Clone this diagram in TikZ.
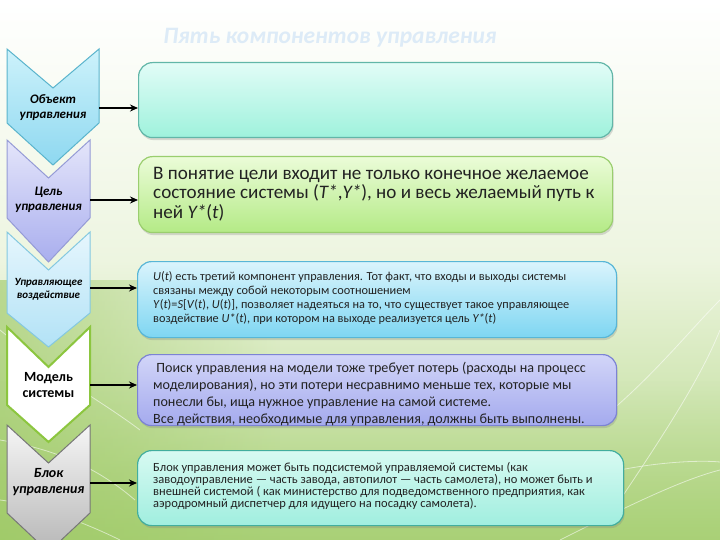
\documentclass[tikz,border=0pt]{standalone}
\usepackage{fontspec}
\setmainfont{Carlito}
\usetikzlibrary{shadows,fadings,arrows.meta}
\definecolor{bgtop}{HTML}{FFFFFF}
\definecolor{bgmid}{HTML}{EDF5E0}
\definecolor{bgbot}{HTML}{B2D684}
\definecolor{bgleaf}{HTML}{9CC862}
\definecolor{ttl}{HTML}{DDEBF7}
\definecolor{txt}{HTML}{222222}
% chevrons
\definecolor{caT}{HTML}{CDF2FB}\definecolor{caB}{HTML}{8ED8F0}\definecolor{caD}{HTML}{5AB4CC}
\definecolor{cbT}{HTML}{E4E5FA}\definecolor{cbB}{HTML}{A9AEEE}\definecolor{cbD}{HTML}{959BD6}
\definecolor{ccT}{HTML}{E6F6FD}\definecolor{ccB}{HTML}{B2E2F6}\definecolor{ccD}{HTML}{84C8E0}
\definecolor{cdD}{HTML}{8CC63F}
\definecolor{ceT}{HTML}{F6F6F6}\definecolor{ceB}{HTML}{B6B6B6}\definecolor{ceD}{HTML}{777777}
% boxes
\definecolor{baT}{HTML}{E2FCF7}\definecolor{baB}{HTML}{9EF2DC}\definecolor{baD}{HTML}{62B6A8}
\definecolor{bbT}{HTML}{EBFCD8}\definecolor{bbB}{HTML}{B4EA86}\definecolor{bbD}{HTML}{9ACE6E}
\definecolor{bcT}{HTML}{DAF4FC}\definecolor{bcB}{HTML}{7ED6F2}\definecolor{bcD}{HTML}{58B6D6}
\definecolor{bdT}{HTML}{D2D5F8}\definecolor{bdB}{HTML}{A4AAEE}\definecolor{bdD}{HTML}{7C83D4}
\definecolor{beT}{HTML}{D8FAF2}\definecolor{beB}{HTML}{A0EEDF}\definecolor{beD}{HTML}{42AE9E}
\tikzset{
  chevlabel/.style={font=\bfseries\itshape\fontsize{13}{15}\selectfont, align=center, text=black, inner sep=0pt},
  box/.style={rounded corners=14pt, line width=1.2pt, anchor=north west, inner sep=0pt,
     drop shadow={opacity=0.28, shadow xshift=1pt, shadow yshift=-2.5pt}},
  boxtext/.style={anchor=west, align=left, text=txt, inner sep=0pt},
  conn/.style={line width=1.8pt, -{Stealth[length=8pt,width=7pt]}},
  deco/.style={white, line width=0.8pt, opacity=0.55}
}
\newcommand{\chevshape}[8]{%
  % #1 style, #2 x1, #3 x2, #4 top, #5 notch, #6 side bottom, #7 point, #8 mid x
  \path[#1] (#2,#4) -- (#8,#5) -- (#3,#4) -- (#3,#6) -- (#8,#7) -- (#2,#6) -- cycle;}
\begin{document}
\begin{tikzpicture}[x=1pt,y=-1pt]
\useasboundingbox (0,0) rectangle (720,540);
\begin{scope}
\clip (0,0) rectangle (720,540);
% background
\shade[top color=bgtop, bottom color=bgmid] (0,0) rectangle (720,260);
\shade[top color=bgmid, bottom color=bgbot] (0,260) rectangle (720,540);
\fill[bgleaf, path fading=east, opacity=0.6] (0,280) rectangle (280,540);
\fill[bgleaf, path fading=north, opacity=0.4] (0,380) rectangle (720,540);
% decorative curves
\draw[deco] (600,420) .. controls (650,380) and (690,330) .. (720,300);
\draw[deco] (620,500) .. controls (660,440) and (700,380) .. (720,330);
\draw[deco] (560,540) .. controls (620,510) and (680,480) .. (720,470);
\draw[deco] (0,330) .. controls (60,380) and (100,400) .. (140,430);
\draw[deco] (0,440) .. controls (60,450) and (100,470) .. (135,500);
\draw[deco] (0,500) .. controls (40,505) and (90,525) .. (120,540);
\draw[deco] (620,470) .. controls (660,462) and (700,460) .. (720,462);
% title
\node[font=\bfseries\itshape\fontsize{23.5}{26}\selectfont, text=ttl] (title) at (330,38) {Пять компонентов управления};
% chevrons
\chevshape{draw=caD, line width=1pt, top color=caT, bottom color=caB}{7}{99}{49}{88}{123}{165}{53}
\chevshape{draw=cbD, line width=1pt, top color=cbT, bottom color=cbB}{7}{90}{140}{178}{218}{262}{48.5}
\chevshape{draw=ccD, line width=1pt, top color=ccT, bottom color=ccB}{7}{90}{232}{270}{313}{347}{48.5}
\chevshape{draw=cdD, line width=2pt, fill=white}{7}{90}{327}{367}{405}{442}{48.5}
\chevshape{draw=ceD, line width=1pt, top color=ceT, bottom color=ceB}{7}{90}{425}{463}{513}{552}{48.5}
\end{scope}
% chevron labels
\node[chevlabel] (c1) at (53,108) {Объект\\управления};
\node[chevlabel] (c2) at (48.5,200) {Цель\\управления};
\node[chevlabel, font=\bfseries\itshape\fontsize{11}{13}\selectfont] (c3) at (48.5,289) {Управляющее\\воздействие};
\node[chevlabel, font=\bfseries\fontsize{14}{16}\selectfont] (c4) at (48.5,385) {Модель\\системы};
\node[chevlabel, font=\bfseries\itshape\fontsize{14}{16}\selectfont] (c5) at (48.5,482) {Блок\\управления};
% boxes
\node[box, draw=baD, top color=baT, bottom color=baB, minimum width=474pt, minimum height=75pt] (b1) at (138,62) {};
\node[box, draw=bbD, top color=bbT, bottom color=bbB, minimum width=474pt, minimum height=76pt] (b2) at (138,156) {};
\node[box, draw=bcD, top color=bcT, bottom color=bcB, minimum width=479pt, minimum height=76pt] (b3) at (137,261) {};
\node[box, draw=bdD, top color=bdT, bottom color=bdB, minimum width=479pt, minimum height=71pt] (b4) at (137,354) {};
\node[box, draw=beD, top color=beT, bottom color=beB, minimum width=486pt, minimum height=75pt] (b5) at (137,450) {};
% box texts
\node[boxtext, font=\fontsize{19.1}{19.5}\selectfont] (t2) at (153,194)
  {В понятие цели входит не только конечное желаемое\\состояние системы (\textit{T*},\textit{Y*}), но и весь желаемый путь к\\ней \textit{Y*}(\textit{t})};
\node[boxtext, font=\fontsize{12.3}{13.8}\selectfont] (t3) at (153,298)
  {\textit{U}(\textit{t}) есть третий компонент управления. Тот факт, что входы и выходы системы\\связаны между собой некоторым соотношением\\\textit{Y}(\textit{t})=\textit{S}[\textit{V}(\textit{t}), \textit{U}(\textit{t})], позволяет надеяться на то, что существует такое управляющее\\воздействие \textit{U*}(\textit{t}), при котором на выходе реализуется цель \textit{Y*}(\textit{t})};
\node[boxtext, font=\fontsize{14.1}{16.7}\selectfont] (t4) at (153,394)
  {\ Поиск управления на модели тоже требует потерь (расходы на процесс\\моделирования), но эти потери несравнимо меньше тех, которые мы\\понесли бы, ища нужное управление на самой системе.\\Все действия, необходимые для управления, должны быть выполнены.};
\node[boxtext, font=\fontsize{12.5}{11.8}\selectfont] (t5) at (153,486)
  {Блок управления может быть подсистемой управляемой системы (как\\заводоуправление — часть завода, автопилот — часть самолета), но может быть и\\внешней системой ( как министерство для подведомственного предприятия, как\\аэродромный диспетчер для идущего на посадку самолета).};
% connectors
\coordinate (a1) at (99,108);
\coordinate (a2) at (90,200);
\coordinate (a3) at (90,288);
\coordinate (a4) at (90,385);
\coordinate (a5) at (90,483);
\draw[conn] (a1) -- (a1 -| b1.west);
\draw[conn] (a2) -- (a2 -| b2.west);
\draw[conn] (a3) -- (a3 -| b3.west);
\draw[conn] (a4) -- (a4 -| b4.west);
\draw[conn] (a5) -- (a5 -| b5.west);
\end{tikzpicture}
\end{document}
